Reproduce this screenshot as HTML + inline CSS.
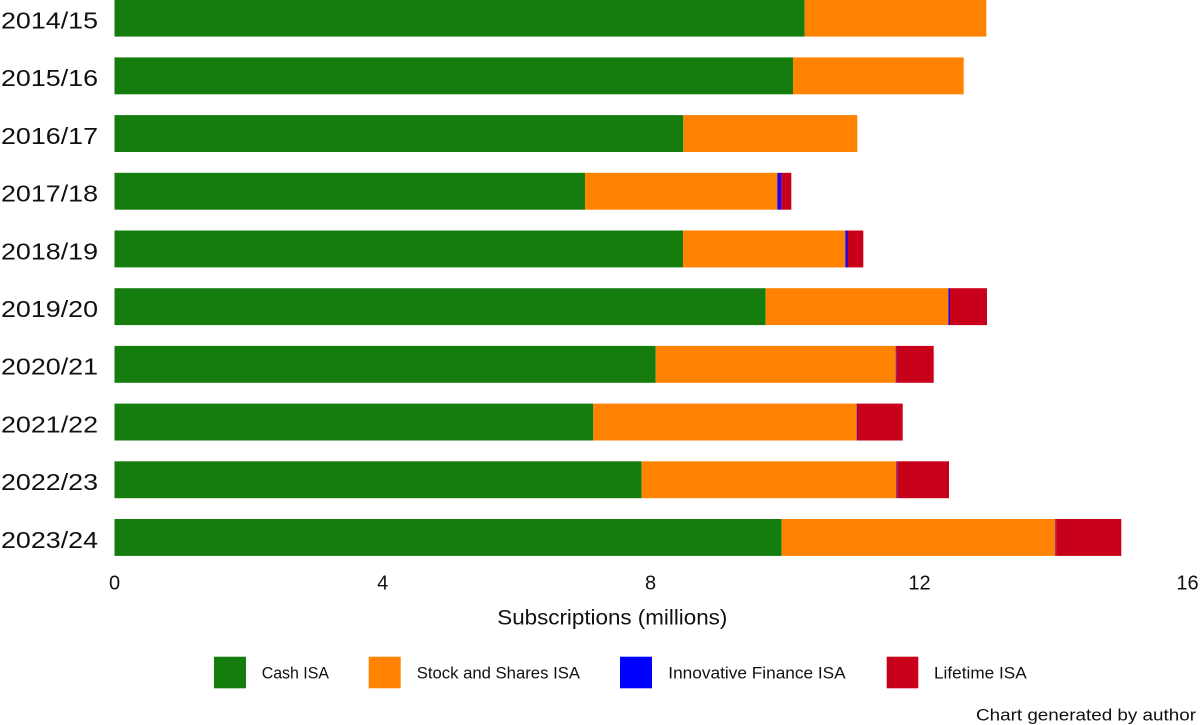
<!DOCTYPE html>
<html>
<head>
<meta charset="utf-8">
<style>
  html, body { margin: 0; padding: 0; background: #ffffff; }
  svg { display: block; }
  text { font-family: "Liberation Sans", "DejaVu Sans", sans-serif; fill: #111111; }
</style>
</head>
<body>
<svg width="1200" height="725" viewBox="0 0 1200 725" xmlns="http://www.w3.org/2000/svg">
  <rect x="0" y="0" width="1200" height="725" fill="#ffffff"/>

  <!-- Year labels -->
  <g font-size="23" text-anchor="end">
    <text x="98" y="28.5" textLength="97" lengthAdjust="spacingAndGlyphs">2014/15</text>
    <text x="98" y="86.2" textLength="97" lengthAdjust="spacingAndGlyphs">2015/16</text>
    <text x="98" y="143.9" textLength="97" lengthAdjust="spacingAndGlyphs">2016/17</text>
    <text x="98" y="201.6" textLength="97" lengthAdjust="spacingAndGlyphs">2017/18</text>
    <text x="98" y="259.3" textLength="97" lengthAdjust="spacingAndGlyphs">2018/19</text>
    <text x="98" y="317" textLength="97" lengthAdjust="spacingAndGlyphs">2019/20</text>
    <text x="98" y="374.7" textLength="97" lengthAdjust="spacingAndGlyphs">2020/21</text>
    <text x="98" y="432.4" textLength="97" lengthAdjust="spacingAndGlyphs">2021/22</text>
    <text x="98" y="490.1" textLength="97" lengthAdjust="spacingAndGlyphs">2022/23</text>
    <text x="98" y="547.8" textLength="97" lengthAdjust="spacingAndGlyphs">2023/24</text>
  </g>

  <!-- Bars -->
  <g>
    <!-- 2014/15 -->
    <rect x="114.5" y="-0.3" width="690.2" height="36.9" fill="#157d0e"/>
    <rect x="804.7" y="-0.3" width="181.6" height="36.9" fill="#ff8200"/>
    <!-- 2015/16 -->
    <rect x="114.5" y="57.4" width="678.5" height="36.9" fill="#157d0e"/>
    <rect x="793" y="57.4" width="170.7" height="36.9" fill="#ff8200"/>
    <!-- 2016/17 -->
    <rect x="114.5" y="115.1" width="568.8" height="36.9" fill="#157d0e"/>
    <rect x="683.3" y="115.1" width="174" height="36.9" fill="#ff8200"/>
    <!-- 2017/18 -->
    <rect x="114.5" y="172.8" width="470.5" height="36.9" fill="#157d0e"/>
    <rect x="585" y="172.8" width="192.3" height="36.9" fill="#ff8200"/>
    <rect x="777.3" y="172.8" width="4.4" height="36.9" fill="#2a00d8"/>
    <rect x="781.7" y="172.8" width="9.6" height="36.9" fill="#c8001a"/>
    <!-- 2018/19 -->
    <rect x="114.5" y="230.5" width="568.5" height="36.9" fill="#157d0e"/>
    <rect x="683" y="230.5" width="162.3" height="36.9" fill="#ff8200"/>
    <rect x="845.3" y="230.5" width="2.7" height="36.9" fill="#2a00d8"/>
    <rect x="848" y="230.5" width="15.3" height="36.9" fill="#c8001a"/>
    <!-- 2019/20 -->
    <rect x="114.5" y="288.2" width="651.2" height="36.9" fill="#157d0e"/>
    <rect x="765.7" y="288.2" width="182.6" height="36.9" fill="#ff8200"/>
    <rect x="948.3" y="288.2" width="1.7" height="36.9" fill="#3a00c8"/>
    <rect x="950" y="288.2" width="37" height="36.9" fill="#c8001a"/>
    <!-- 2020/21 -->
    <rect x="114.5" y="345.9" width="541.2" height="36.9" fill="#157d0e"/>
    <rect x="655.7" y="345.9" width="240" height="36.9" fill="#ff8200"/>
    <rect x="895.7" y="345.9" width="1" height="36.9" fill="#6a0090"/>
    <rect x="896.7" y="345.9" width="37" height="36.9" fill="#c8001a"/>
    <!-- 2021/22 -->
    <rect x="114.5" y="403.6" width="478.8" height="36.9" fill="#157d0e"/>
    <rect x="593.3" y="403.6" width="263.4" height="36.9" fill="#ff8200"/>
    <rect x="856.7" y="403.6" width="0.8" height="36.9" fill="#6a0090"/>
    <rect x="857.5" y="403.6" width="45.2" height="36.9" fill="#c8001a"/>
    <!-- 2022/23 -->
    <rect x="114.5" y="461.3" width="527.2" height="36.9" fill="#157d0e"/>
    <rect x="641.7" y="461.3" width="254.6" height="36.9" fill="#ff8200"/>
    <rect x="896.3" y="461.3" width="1" height="36.9" fill="#6a0090"/>
    <rect x="897.3" y="461.3" width="51.7" height="36.9" fill="#c8001a"/>
    <!-- 2023/24 -->
    <rect x="114.5" y="519" width="667.2" height="36.9" fill="#157d0e"/>
    <rect x="781.7" y="519" width="273.6" height="36.9" fill="#ff8200"/>
    <rect x="1055.3" y="519" width="0.8" height="36.9" fill="#6a0090"/>
    <rect x="1056.1" y="519" width="65.2" height="36.9" fill="#c8001a"/>
  </g>

  <!-- X tick labels -->
  <g font-size="20" text-anchor="middle">
    <text x="114.5" y="589.3">0</text>
    <text x="382.7" y="589.3">4</text>
    <text x="650.5" y="589.3">8</text>
    <text x="919.5" y="589.3">12</text>
    <text x="1187.5" y="589.3">16</text>
  </g>

  <!-- Axis title -->
  <text x="497.3" y="624.3" font-size="21.5" textLength="230" lengthAdjust="spacingAndGlyphs">Subscriptions (millions)</text>

  <!-- Legend -->
  <rect x="214" y="656.7" width="32" height="31.6" fill="#157d0e"/>
  <text x="261.7" y="678.3" font-size="17" textLength="67.3" lengthAdjust="spacingAndGlyphs">Cash ISA</text>

  <rect x="368.7" y="656.7" width="32" height="31.6" fill="#ff8200"/>
  <text x="416.7" y="678.3" font-size="17" textLength="163.3" lengthAdjust="spacingAndGlyphs">Stock and Shares ISA</text>

  <rect x="620" y="656.7" width="32" height="31.6" fill="#0000ff"/>
  <text x="668.3" y="678.3" font-size="17" textLength="177.4" lengthAdjust="spacingAndGlyphs">Innovative Finance ISA</text>

  <rect x="886.7" y="656.7" width="31.6" height="31.6" fill="#c8001a"/>
  <text x="934" y="678.3" font-size="17" textLength="92.7" lengthAdjust="spacingAndGlyphs">Lifetime ISA</text>

  <!-- Footer note -->
  <text x="976" y="720.5" font-size="17" textLength="220" lengthAdjust="spacingAndGlyphs">Chart generated by author</text>
</svg>
</body>
</html>
